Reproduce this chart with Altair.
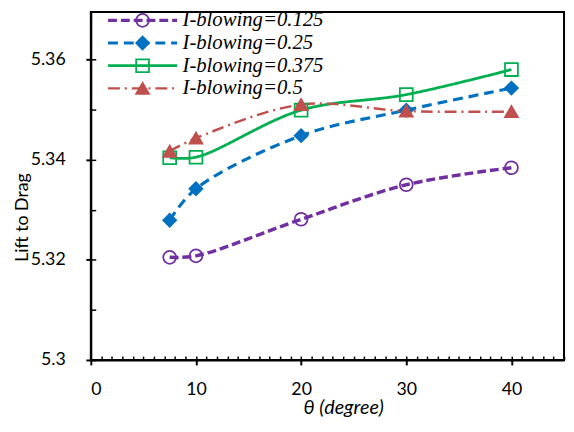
import altair as alt
import pandas as pd

theta = [7.5, 10, 20, 30, 40]
series_names = ["I-blowing=0.125", "I-blowing=0.25", "I-blowing=0.375", "I-blowing=0.5"]
marker_keys = ["m0.125", "m0.25", "m0.375", "m0.5"]
lift_0125 = [5.3205, 5.3208, 5.3281, 5.3350, 5.3384]
lift_025 = [5.3279, 5.3342, 5.3448, 5.3499, 5.3543]
lift_0375 = [5.3404, 5.3405, 5.3499, 5.3530, 5.3580]
lift_05 = [5.3417, 5.3443, 5.3510, 5.3497, 5.3496]

colors = ["#7030A0", "#0070C0", "#00B050", "#C0504D"]
dashes = [[9, 4], [10, 6], [1, 0], [12, 5, 2, 5]]
widths = [3.5, 2.5, 2.0, 2.0]
shapes = ["circle", "diamond", "square", "triangle-up"]
fills = ["transparent", "#0070C0", "transparent", "#C0504D"]

x_major = [0, 10, 20, 30, 40]
x_minor = list(range(0, 46))
y_major = [5.3, 5.32, 5.34, 5.36]
y_minor = [5.3, 5.31, 5.32, 5.33, 5.34, 5.35, 5.36]

rows = []
for name, key, vals in zip(series_names, marker_keys, [lift_0125, lift_025, lift_0375, lift_05]):
    for t, v in zip(theta, vals):
        rows.append({"theta": t, "lift": v, "series": name, "marker": key})
df = pd.DataFrame(rows)

xs = alt.Scale(domain=[0, 45], nice=False, zero=False)
ys = alt.Scale(domain=[5.3, 5.3695], nice=False, zero=False)

ax_main = alt.Axis(values=x_major, format="d", orient="bottom", grid=False,
                   tickSize=5, tickWidth=2, tickColor="black",
                   domainColor="black", domainWidth=2,
                   labelFont="Lato", labelFontSize=18, labelColor="black", labelPadding=16,
                   title="θ (degree)", titleFont="Lato", titleFontStyle="italic",
                   titleFontWeight="normal", titleFontSize=20, titleColor="black",
                   titleX=256, titleY=48, titleBaseline="middle")
ax_inner = alt.Axis(values=x_minor, orient="bottom", offset=-4, tickSize=4, tickWidth=1.5,
                    tickColor="black", domain=False, labels=False, title=None, grid=False)
ay_main = alt.Axis(values=y_major, format="~f", orient="left", grid=False,
                   tickSize=5, tickWidth=2, tickColor="black",
                   domainColor="black", domainWidth=2,
                   labelFont="Lato", labelFontSize=18, labelColor="black", labelPadding=21,
                   title="Lift to Drag", titleFont="Lato", titleFontWeight="normal",
                   titleFontSize=18, titleColor="black",
                   titleX=-69, titleY=208, titleBaseline="middle")
ay_inner = alt.Axis(values=y_minor, orient="left", offset=-5, tickSize=5, tickWidth=1.5,
                    tickColor="black", domain=False, labels=False, title=None, grid=False)

leg_lines = alt.Legend(orient="none", legendX=42, legendY=-2, title=None,
                       symbolType="M-5,0H5", symbolSize=196, labelOffset=30,
                       labelFont="Liberation Serif", labelFontStyle="italic",
                       labelFontSize=21, labelColor="black", rowPadding=1, padding=0)
leg_pts = alt.Legend(orient="none", legendX=42, legendY=-2, title=None,
                     symbolSize=170, symbolStrokeWidth=1.8, labelOffset=30,
                     labelExpr="''", labelFont="Liberation Serif", labelFontStyle="italic",
                     labelFontSize=21, rowPadding=1, padding=0)

lines = alt.Chart(df).mark_line(interpolate="catmull-rom").encode(
    x=alt.X("theta:Q", scale=xs, axis=ax_main),
    y=alt.Y("lift:Q", scale=ys, axis=ay_main),
    color=alt.Color("series:N", scale=alt.Scale(domain=series_names, range=colors), legend=leg_lines),
    strokeDash=alt.StrokeDash("series:N", scale=alt.Scale(domain=series_names, range=dashes), legend=leg_lines),
    strokeWidth=alt.StrokeWidth("series:N", scale=alt.Scale(domain=series_names, range=widths), legend=leg_lines),
)

points = alt.Chart(df).mark_point(size=170, strokeWidth=1.8, opacity=1).encode(
    x=alt.X("theta:Q", scale=xs, axis=ax_inner),
    y=alt.Y("lift:Q", scale=ys, axis=ay_inner),
    shape=alt.Shape("marker:N", scale=alt.Scale(domain=marker_keys, range=shapes), legend=leg_pts),
    fill=alt.Fill("marker:N", scale=alt.Scale(domain=marker_keys, range=fills), legend=leg_pts),
    stroke=alt.Stroke("marker:N", scale=alt.Scale(domain=marker_keys, range=colors), legend=leg_pts),
)

chart = alt.layer(lines, points).resolve_axis(x="independent", y="independent").properties(
    width=480, height=353,
    autosize=alt.AutoSizeParams(type="none"),
    padding={"left": 84, "top": 1, "right": 2, "bottom": 70},
).configure_view(stroke="black", strokeWidth=2)

chart.save("out.html", embed_options={"renderer": "svg", "actions": False})
